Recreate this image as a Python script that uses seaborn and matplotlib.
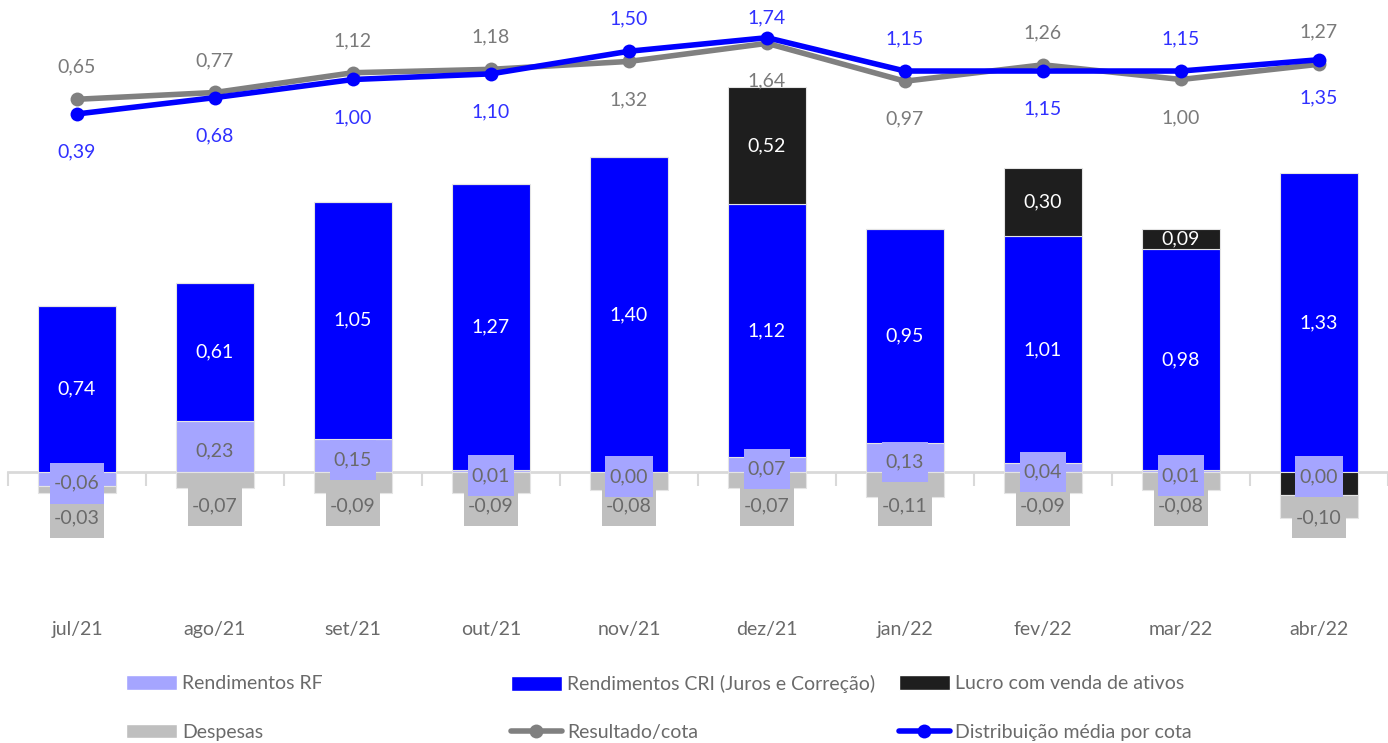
import numpy as np
import matplotlib
matplotlib.use('Agg')
import matplotlib.pyplot as plt
from matplotlib.path import Path
from matplotlib.patches import Patch
from matplotlib.lines import Line2D
import seaborn as sns

# data
months = ['jul/21', 'ago/21', 'set/21', 'out/21', 'nov/21',
          'dez/21', 'jan/22', 'fev/22', 'mar/22', 'abr/22']
rend_rf = [-0.06, 0.23, 0.15, 0.01, 0.00, 0.07, 0.13, 0.04, 0.01, 0.00]
rend_cri = [0.74, 0.61, 1.05, 1.27, 1.40, 1.12, 0.95, 1.01, 0.98, 1.33]
lucro = [0.00, 0.00, 0.00, 0.00, 0.00, 0.52, 0.00, 0.30, 0.09, -0.10]
lucro_labels = ['', '', '', '', '', '0,52', '', '0,30', '0,09', '']
despesas = [-0.03, -0.07, -0.09, -0.09, -0.08, -0.07, -0.11, -0.09, -0.08, -0.10]
resultado = [0.65, 0.77, 1.12, 1.18, 1.32, 1.64, 0.97, 1.26, 1.00, 1.27]
distribuicao = [0.39, 0.68, 1.00, 1.10, 1.50, 1.74, 1.15, 1.15, 1.15, 1.35]
# which line gets its label above the point
resultado_above = [True, True, True, True, False, False, False, True, False, True]

C_RF = '#A5A5FF'
C_CRI = '#0000FF'
C_LUCRO = '#1E1E1E'
C_DESP = '#BFBFBF'
C_RES = '#808080'
C_DIST = '#0000FF'
TXT_GRAY = '#6A6A6A'
TXT_BLUE = '#3030FF'
FS = 14

sns.set_style('white')
plt.rcParams['font.family'] = ['Lato', 'DejaVu Sans']


def fmt(v):
    return f'{v:.2f}'.replace('.', ',')


def label_box(x0, y0, width, height, mutation_size):
    # wider vertical padding than horizontal, like the excel label shapes
    px, py = 0.22 * mutation_size, 0.6 * mutation_size
    return Path([(x0 - px, y0 - py), (x0 + width + px, y0 - py),
                 (x0 + width + px, y0 + height + py), (x0 - px, y0 + height + py),
                 (x0 - px, y0 - py)], closed=True)


n = len(months)
x = np.arange(n)
AX_H_PX = 600

fig = plt.figure(figsize=(13.88, 7.43), dpi=100)
ax = fig.add_axes([8 / 1388, 143 / 743, 1380 / 1388, AX_H_PX / 743])

pos_base = np.zeros(n)
neg_base = np.zeros(n)
segments = {}
for name, vals, color in [('rf', rend_rf, C_RF), ('cri', rend_cri, C_CRI),
                          ('lucro', lucro, C_LUCRO), ('desp', despesas, C_DESP)]:
    vals = np.array(vals)
    base = np.where(vals >= 0, pos_base, neg_base)
    sns.barplot(x=months, y=vals, bottom=base, color=color, saturation=1,
                width=0.57, errorbar=None, edgecolor='#e4e4e4', linewidth=0.8,
                ax=ax, zorder=2)
    segments[name] = (base, vals)
    pos_base = pos_base + np.where(vals > 0, vals, 0)
    neg_base = neg_base + np.where(vals < 0, vals, 0)

ymin, ymax = -0.566, 2.096
ax.set_xlim(-0.5, n - 0.5)
ax.set_ylim(ymin, ymax)

# bar labels
base, vals = segments['cri']
for i in range(n):
    ax.text(x[i], base[i] + vals[i] / 2, fmt(vals[i]), ha='center', va='center',
            color='white', fontsize=FS, zorder=5)

base, vals = segments['lucro']
for i in range(n):
    if lucro_labels[i]:
        ax.text(x[i], base[i] + vals[i] / 2, lucro_labels[i], ha='center',
                va='center', color='white', fontsize=FS, zorder=5)

rf_base, rf_vals = segments['rf']
for i in range(n):
    ax.annotate(fmt(rf_vals[i]), (x[i], rf_base[i] + rf_vals[i] / 2),
                xytext=(0, -3), textcoords='offset points', ha='center',
                va='center', color=TXT_GRAY, fontsize=FS, zorder=7,
                bbox=dict(boxstyle=label_box, fc=C_RF, ec='none'))

d_base, d_vals = segments['desp']
for i in range(n):
    y_lbl = -0.20 if d_base[i] < 0 else -0.147
    ax.text(x[i], y_lbl, fmt(d_vals[i]), ha='center', va='center',
            color=TXT_GRAY, fontsize=FS, zorder=6,
            bbox=dict(boxstyle=label_box, fc=C_DESP, ec='none'))

# zero line with category boundary ticks
zero_frac = (0 - ymin) / (ymax - ymin)
sec = ax.secondary_xaxis(zero_frac)
sec.set_xticks(np.arange(n + 1) - 0.5)
sec.tick_params(axis='x', length=10, width=1.5, color='#d9d9d9',
                labelbottom=False, direction='out')
sec.spines['bottom'].set_color('#d9d9d9')
sec.spines['bottom'].set_linewidth(2)
sec.set_zorder(1)

ax.set_xticks(x, months)
ax.tick_params(axis='x', length=0, pad=15, labelsize=FS, labelcolor=TXT_GRAY)
ax.set_yticks([])
ax.set_xlabel('')
ax.set_ylabel('')
for s in ax.spines.values():
    s.set_visible(False)

# lines on a second axis
ax2 = ax.twinx()
sns.lineplot(x=x, y=resultado, ax=ax2, color=C_RES, linewidth=4, marker='o',
             markersize=10, markeredgewidth=0, legend=False)
sns.lineplot(x=x, y=distribuicao, ax=ax2, color=C_DIST, linewidth=4, marker='o',
             markersize=10, markeredgewidth=0, legend=False)
y2min, y2max = -8.212, 2.407
ax2.set_ylim(y2min, y2max)
ax2.set_yticks([])
ax2.set_ylabel('')
for s in ax2.spines.values():
    s.set_visible(False)

# label offsets in pixels, converted to units of the line axis
per_px = (y2max - y2min) / AX_H_PX
up_off, down_off, top_room = 32 * per_px, 38 * per_px, 18 * per_px


def line_label(v, above):
    return min(v + up_off, y2max - top_room) if above else v - down_off


for i in range(n):
    up = resultado_above[i]
    ax2.text(x[i], line_label(resultado[i], up), fmt(resultado[i]),
             ha='center', va='center', color='#7A7A7A', fontsize=FS)
    ax2.text(x[i], line_label(distribuicao[i], not up), fmt(distribuicao[i]),
             ha='center', va='center', color=TXT_BLUE, fontsize=FS)

# legend: three columns of two rows, like the excel layout
h_rf = Patch(facecolor=C_RF)
h_desp = Patch(facecolor=C_DESP)
h_cri = Patch(facecolor=C_CRI)
h_res = Line2D([], [], color=C_RES, lw=4, marker='o', markersize=10, markeredgewidth=0)
h_lucro = Patch(facecolor=C_LUCRO)
h_dist = Line2D([], [], color=C_DIST, lw=4, marker='o', markersize=10, markeredgewidth=0)
cols = [([h_rf, h_desp], ['Rendimentos RF', 'Despesas'], 126),
        ([h_cri, h_res], ['Rendimentos CRI (Juros e Correção)', 'Resultado/cota'], 511),
        ([h_lucro, h_dist], ['Lucro com venda de ativos', 'Distribuição média por cota'], 899)]
for handles, labels, xpx in cols:
    fig.legend(handles, labels, loc='center left', bbox_to_anchor=(xpx / 1388, 1 - 708 / 743),
               frameon=False, fontsize=FS, labelcolor=TXT_GRAY, handlelength=2.6,
               handleheight=0.8, handletextpad=0.3, labelspacing=1.6, borderpad=0,
               borderaxespad=0)

fig.savefig('out.png', dpi=100)
